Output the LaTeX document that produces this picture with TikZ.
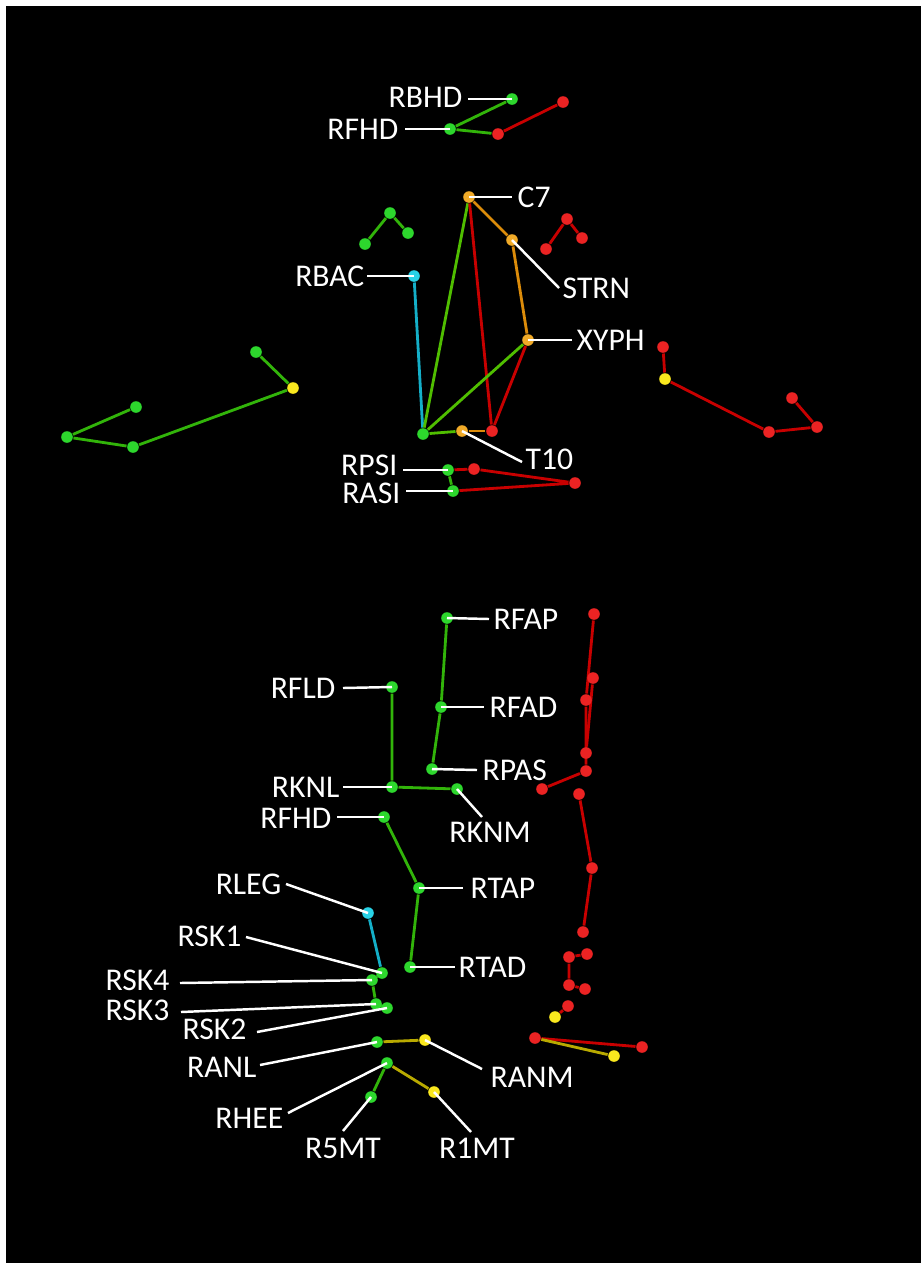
\documentclass[tikz,border=0pt]{standalone}
\usepackage{fontspec}
\setmainfont{Carlito}
\usetikzlibrary{calc}
\definecolor{gdot}{RGB}{45,215,45}
\definecolor{gline}{RGB}{50,180,10}
\definecolor{lline}{RGB}{80,190,0}
\definecolor{rdot}{RGB}{235,35,35}
\definecolor{rline}{RGB}{200,0,0}
\definecolor{odot}{RGB}{240,170,40}
\definecolor{oline}{RGB}{220,140,10}
\definecolor{cdot}{RGB}{40,210,230}
\definecolor{cline}{RGB}{20,175,200}
\definecolor{ydot}{RGB}{250,232,30}
\definecolor{yline}{RGB}{185,170,0}
\pgfdeclarelayer{bg}
\pgfsetlayers{bg,main}
\begin{document}
\begin{tikzpicture}[x=0.01cm,y=-0.01cm,
  dot/.style={circle,inner sep=0pt,minimum size=3.3pt,fill=#1},
  lbl/.style={text=white,font=\fontsize{9}{11}\selectfont,inner sep=0pt},
  lead/.style={white,line width=0.7pt},
  bone/.style={line width=0.8pt,#1}]
\useasboundingbox (0,0) rectangle (921,1263);
% dots
\node[dot=gdot] (hB) at (512,99) {};
\node[dot=gdot] (hF) at (450,129) {};
\node[dot=rdot] (hR1) at (498,134) {};
\node[dot=rdot] (hR2) at (563,102) {};
\node[dot=odot] (C7) at (469,197) {};
\node[dot=odot] (STRN) at (512,240) {};
\node[dot=odot] (XYPH) at (528,340) {};
\node[dot=odot] (T10) at (462,431) {};
\node[dot=gdot] (gA) at (390,213) {};
\node[dot=gdot] (gB) at (365,244) {};
\node[dot=gdot] (gC) at (408,233) {};
\node[dot=rdot] (rA) at (567,219) {};
\node[dot=rdot] (rB) at (546,249) {};
\node[dot=rdot] (rC) at (582,238) {};
\node[dot=cdot] (RBAC) at (414,276) {};
\node[dot=gdot] (tG) at (423,434) {};
\node[dot=rdot] (tR) at (492,431) {};
\node[dot=gdot] (RPSI) at (448,470) {};
\node[dot=rdot] (pR1) at (474,469) {};
\node[dot=rdot] (pR2) at (575,483) {};
\node[dot=gdot] (RASI) at (453,491) {};
\node[dot=gdot] (la1) at (256,352) {};
\node[dot=ydot] (la2) at (293,388) {};
\node[dot=gdot] (la3) at (133,447) {};
\node[dot=gdot] (la4) at (67,437) {};
\node[dot=gdot] (la5) at (136,407) {};
\node[dot=rdot] (ra1) at (663,347) {};
\node[dot=ydot] (ra2) at (665,379) {};
\node[dot=rdot] (ra3) at (769,432) {};
\node[dot=rdot] (ra4) at (817,427) {};
\node[dot=rdot] (ra5) at (792,398) {};
\node[dot=gdot] (RFAP) at (447,618) {};
\node[dot=gdot] (RFAD) at (441,707) {};
\node[dot=gdot] (RPAS) at (432,769) {};
\node[dot=gdot] (RFLD) at (392,687) {};
\node[dot=gdot] (RKNL) at (392,787) {};
\node[dot=gdot] (RKNM) at (457,789) {};
\node[dot=gdot] (RFHDb) at (384,817) {};
\node[dot=gdot] (RTAP) at (419,888) {};
\node[dot=gdot] (RTAD) at (410,967) {};
\node[dot=cdot] (RLEG) at (368,913) {};
\node[dot=gdot] (RSK1) at (382,973) {};
\node[dot=gdot] (RSK4) at (372,980) {};
\node[dot=gdot] (RSK3) at (376,1004) {};
\node[dot=gdot] (RSK2) at (387,1008) {};
\node[dot=gdot] (RANL) at (377,1042) {};
\node[dot=ydot] (RANM) at (425,1040) {};
\node[dot=gdot] (RHEE) at (387,1063) {};
\node[dot=gdot] (R5MT) at (371,1097) {};
\node[dot=ydot] (R1MT) at (434,1092) {};
\node[dot=rdot] (r1) at (594,614) {};
\node[dot=rdot] (r2) at (593,678) {};
\node[dot=rdot] (r3) at (586,700) {};
\node[dot=rdot] (r4) at (586,753) {};
\node[dot=rdot] (r5) at (586,771) {};
\node[dot=rdot] (r6) at (542,789) {};
\node[dot=rdot] (r7) at (579,794) {};
\node[dot=rdot] (r8) at (592,868) {};
\node[dot=rdot] (r9) at (583,932) {};
\node[dot=rdot] (r10) at (569,957) {};
\node[dot=rdot] (r11) at (587,954) {};
\node[dot=rdot] (r12) at (569,985) {};
\node[dot=rdot] (r13) at (585,989) {};
\node[dot=rdot] (r14) at (568,1006) {};
\node[dot=ydot] (y1) at (555,1017) {};
\node[dot=rdot] (r15) at (535,1038) {};
\node[dot=rdot] (r16) at (642,1047) {};
\node[dot=ydot] (y2) at (614,1056) {};
% bones
\begin{pgfonlayer}{bg}
\fill[white] (0,0) rectangle (921,1263);
\fill[black] (6,6) rectangle (921,1263);
\draw[bone=gline] (hB) -- (hF) -- (hR1);
\draw[bone=rline] (hR1) -- (hR2);
\draw[bone=gline] (gB) -- (gA) -- (gC);
\draw[bone=rline] (rB) -- (rA) -- (rC);
\draw[bone=cline] (RBAC) -- (tG);
\draw[bone=lline] (C7) -- (tG);
\draw[bone=rline] (C7) -- (tR);
\draw[bone=oline] (C7) -- (STRN) -- (XYPH);
\draw[bone=lline] (XYPH) -- (tG);
\draw[bone=rline] (XYPH) -- (tR);
\draw[bone=lline] (tG) -- (T10);
\draw[bone=oline] (T10) -- (tR);
\draw[bone=gline] (RPSI) -- (RASI);
\draw[bone=rline] (RPSI) -- (pR1) -- (pR2) -- (RASI);
\draw[bone=gline] (la1) -- (la2) -- (la3) -- (la4) -- (la5);
\draw[bone=rline] (ra1) -- (ra2) -- (ra3) -- (ra4) -- (ra5);
\draw[bone=gline] (RFAP) -- (RFAD) -- (RPAS);
\draw[bone=gline] (RFLD) -- (RKNL) -- (RKNM);
\draw[bone=gline] (RFHDb) -- (RTAP) -- (RTAD);
\draw[bone=cline] (RLEG) -- (RSK1);
\draw[bone=gline] (RSK1) -- (RSK4) -- (RSK3) -- (RSK2);
\draw[bone=yline] (RANL) -- (RANM);
\draw[bone=gline] (RHEE) -- (R5MT);
\draw[bone=yline] (RHEE) -- (R1MT);
\draw[bone=rline] (r1) -- (r3) -- (r5) -- (r6);
\draw[bone=rline] (r2) -- (r4);
\draw[bone=rline] (r7) -- (r8) -- (r9);
\draw[bone=rline] (r11) -- (r10) -- (r12) -- (r13);
\draw[bone=rline] (r14) -- (y1);
\draw[bone=rline] (r15) -- (r16);
\draw[bone=yline] (r15) -- (y2);
\end{pgfonlayer}
% labels (left side)
\node[lbl,anchor=east] (LRBHD) at (463,97) {RBHD};
\node[lbl,anchor=east] (LRFHD) at (399,129) {RFHD};
\node[lbl,anchor=east] (LRBAC) at (365,276) {RBAC};
\node[lbl,anchor=east] (LRPSI) at (398,465) {RPSI};
\node[lbl,anchor=east] (LRASI) at (401,493) {RASI};
\node[lbl,anchor=east] (LRFLD) at (336,688) {RFLD};
\node[lbl,anchor=east] (LRKNL) at (340,787) {RKNL};
\node[lbl,anchor=east] (LRFHDb) at (332,818) {RFHD};
\node[lbl,anchor=east] (LRLEG) at (282,884) {RLEG};
\node[lbl,anchor=east] (LRSK1) at (242,936) {RSK1};
\node[lbl,anchor=east] (LRSK4) at (170,980) {RSK4};
\node[lbl,anchor=east] (LRSK3) at (170,1010) {RSK3};
\node[lbl,anchor=east] (LRSK2) at (247,1029) {RSK2};
\node[lbl,anchor=east] (LRANL) at (257,1067) {RANL};
\node[lbl,anchor=east] (LRHEE) at (284,1118) {RHEE};
% labels (right side)
\node[lbl,anchor=west] (LC7) at (517,197) {C7};
\node[lbl,anchor=west] (LSTRN) at (562,288) {STRN};
\node[lbl,anchor=west] (LXYPH) at (576,340) {XYPH};
\node[lbl,anchor=west] (LT10) at (525,459) {T10};
\node[lbl,anchor=west] (LRFAP) at (493,619) {RFAP};
\node[lbl,anchor=west] (LRFAD) at (489,707) {RFAD};
\node[lbl,anchor=west] (LRPAS) at (482,770) {RPAS};
\node[lbl] (LRKNM) at (490,832) {RKNM};
\node[lbl,anchor=west] (LRTAP) at (470,888) {RTAP};
\node[lbl,anchor=west] (LRTAD) at (458,967) {RTAD};
\node[lbl,anchor=west] (LRANM) at (490,1077) {RANM};
\node[lbl] (LR5MT) at (343,1148) {R5MT};
\node[lbl] (LR1MT) at (477,1148) {R1MT};
% leader ends
\coordinate (eRBHD) at (468,99);
\coordinate (eRFHD) at (405,129);
\coordinate (eRBAC) at (367,276);
\coordinate (eRPSI) at (403,470);
\coordinate (eRASI) at (406,491);
\coordinate (eRFLD) at (343,688);
\coordinate (eRKNL) at (343,787);
\coordinate (eRFHDb) at (337,817);
\coordinate (eRLEG) at (286,884);
\coordinate (eRSK1) at (246,937);
\coordinate (eRSK4) at (180,983);
\coordinate (eRSK3) at (181,1012);
\coordinate (eRSK2) at (257,1032);
\coordinate (eRANL) at (260,1065);
\coordinate (eRHEE) at (288,1113);
\coordinate (eC7) at (512,197);
\coordinate (eSTRN) at (559,288);
\coordinate (eXYPH) at (572,340);
\coordinate (eT10) at (522,462);
\coordinate (eRFAP) at (489,619);
\coordinate (eRFAD) at (484,707);
\coordinate (eRPAS) at (477,770);
\coordinate (eRKNM) at (482,817);
\coordinate (eRTAP) at (463,888);
\coordinate (eRTAD) at (455,967);
\coordinate (eRANM) at (482,1069);
\coordinate (eR5MT) at (343,1131);
\coordinate (eR1MT) at (471,1132);
% leaders
\draw[lead] (eRBHD) -- (hB.center);
\draw[lead] (eRFHD) -- (hF.center);
\draw[lead] (eRBAC) -- (RBAC.center);
\draw[lead] (eRPSI) -- (RPSI.center);
\draw[lead] (eRASI) -- (RASI.center);
\draw[lead] (eRFLD) -- (RFLD.center);
\draw[lead] (eRKNL) -- (RKNL.center);
\draw[lead] (eRFHDb) -- (RFHDb.center);
\draw[lead] (eRLEG) -- (RLEG.center);
\draw[lead] (eRSK1) -- (RSK1.center);
\draw[lead] (eRSK4) -- (RSK4.center);
\draw[lead] (eRSK3) -- (RSK3.center);
\draw[lead] (eRSK2) -- (RSK2.center);
\draw[lead] (eRANL) -- (RANL.center);
\draw[lead] (eRHEE) -- (RHEE.center);
\draw[lead] (C7.center) -- (eC7);
\draw[lead] (STRN.center) -- (eSTRN);
\draw[lead] (XYPH.center) -- (eXYPH);
\draw[lead] (T10.center) -- (eT10);
\draw[lead] (RFAP.center) -- (eRFAP);
\draw[lead] (RFAD.center) -- (eRFAD);
\draw[lead] (RPAS.center) -- (eRPAS);
\draw[lead] (RKNM.center) -- (eRKNM);
\draw[lead] (RTAP.center) -- (eRTAP);
\draw[lead] (RTAD.center) -- (eRTAD);
\draw[lead] (RANM.center) -- (eRANM);
\draw[lead] (R5MT.center) -- (eR5MT);
\draw[lead] (R1MT.center) -- (eR1MT);
\end{tikzpicture}
\end{document}
